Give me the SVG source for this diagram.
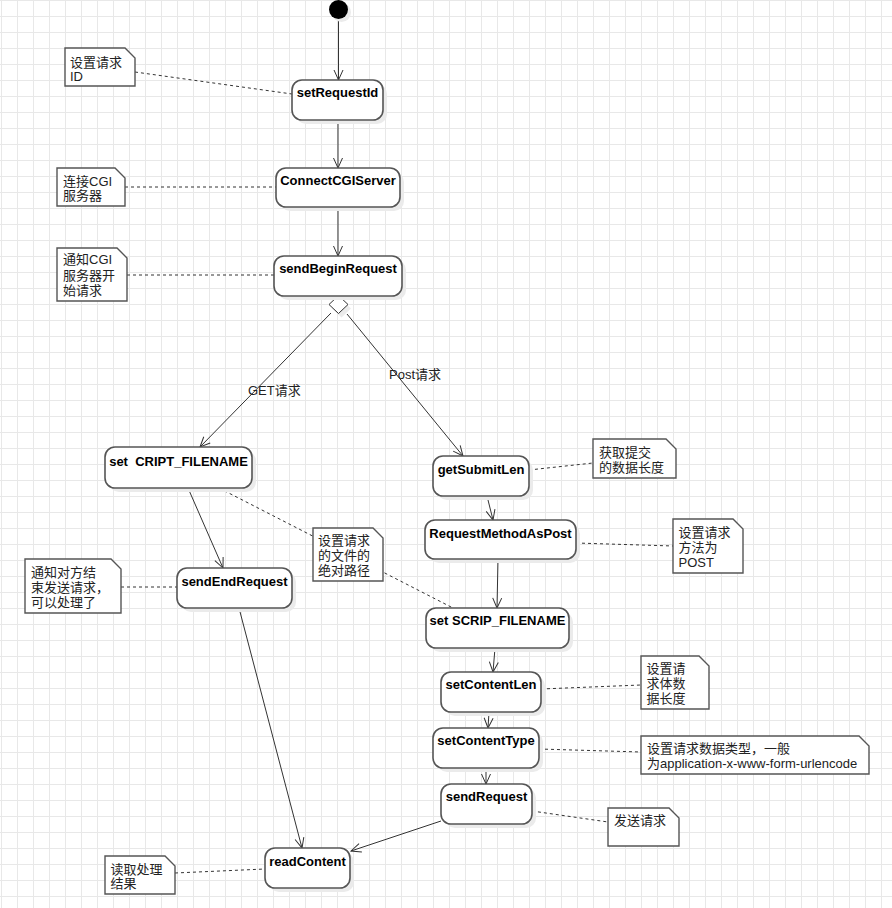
<svg xmlns="http://www.w3.org/2000/svg" width="892" height="908" viewBox="0 0 892 908">
<defs>
<pattern id="grid" x="1" y="0" width="16" height="16" patternUnits="userSpaceOnUse">
<path d="M0 0.5 H16 M0.5 0 V16" fill="none" stroke="#e8e8e8" stroke-width="1"/>
</pattern>
<marker id="arr" markerWidth="12" markerHeight="12" refX="10" refY="5" orient="auto" markerUnits="userSpaceOnUse" overflow="visible">
<path d="M0,0.5 L10,5 L0,9.5" fill="none" stroke="#333" stroke-width="1"/>
</marker>
</defs>
<style>
.node rect.b{fill:#fff;stroke:#555;stroke-width:1.6}
.node rect.s{fill:#ebebeb;stroke:none}
.node text{font-family:"Liberation Sans","Noto Sans CJK SC",sans-serif;font-size:13px;font-weight:bold;fill:#000;text-anchor:middle}
.note path.b{fill:#fff;stroke:#555;stroke-width:1.4}
.note text{font-family:"Liberation Sans","Noto Sans CJK SC",sans-serif;font-size:13px;fill:#222}
.flow{stroke:#333;stroke-width:1;fill:none;marker-end:url(#arr)}
.dash{stroke:#333;stroke-width:1;fill:none;stroke-dasharray:3,3}
.lbl{font-family:"Liberation Sans","Noto Sans CJK SC",sans-serif;font-size:13px;fill:#222}
</style>
<rect width="892" height="908" fill="#fff"/>
<rect width="892" height="908" fill="url(#grid)"/>

<g id="connectors">
<line class="flow" x1="338.5" y1="19" x2="338.5" y2="80"/>
<line class="flow" x1="338" y1="120" x2="338" y2="168"/>
<line class="flow" x1="338" y1="207" x2="338" y2="256"/>
<line class="flow" x1="331" y1="313" x2="200" y2="447"/>
<line class="flow" x1="347" y1="314" x2="463" y2="456"/>
<line class="flow" x1="188" y1="488" x2="223" y2="568"/>
<line class="flow" x1="487" y1="496" x2="493" y2="520"/>
<line class="flow" x1="498" y1="559" x2="497" y2="608"/>
<line class="flow" x1="495" y1="648" x2="493" y2="672"/>
<line class="flow" x1="489" y1="712" x2="488" y2="728"/>
<line class="flow" x1="486" y1="768" x2="486" y2="784"/>
<line class="flow" x1="441" y1="821" x2="351" y2="851"/>
<line class="flow" x1="239" y1="608" x2="302" y2="848"/>
<line class="dash" x1="135" y1="72" x2="292" y2="94"/>
<line class="dash" x1="125" y1="187" x2="276" y2="187"/>
<line class="dash" x1="127" y1="275" x2="274" y2="275"/>
<line class="dash" x1="219" y1="488" x2="453" y2="608"/>
<line class="dash" x1="529" y1="470" x2="593" y2="463"/>
<line class="dash" x1="576" y1="543" x2="673" y2="546"/>
<line class="dash" x1="541" y1="689" x2="641" y2="685"/>
<line class="dash" x1="539" y1="749" x2="641" y2="752"/>
<line class="dash" x1="532" y1="811" x2="608" y2="822"/>
<line class="dash" x1="175" y1="873" x2="265" y2="869"/>
<line class="dash" x1="121" y1="587" x2="177" y2="587"/>
<text class="lbl" x="248" y="394.5">GET请求</text>
<text class="lbl" x="389" y="378.5">Post请求</text>
</g>

<g id="start">
<circle cx="341.5" cy="12.5" r="9.5" fill="#ebebeb"/>
<circle cx="338.5" cy="9.5" r="9.5" fill="#000"/>
</g>

<g id="decision">
<polygon points="341.5,299.5 351,308.5 341.5,317.5 332,308.5" fill="#ebebeb"/>
<polygon points="338.5,295.5 348,304.5 338.5,313.5 329,304.5" fill="#fff" stroke="#333" stroke-width="1"/>
</g>

<g id="n-setRequestId" class="node">
<rect class="s" x="296" y="84" width="91" height="40" rx="10"/>
<rect class="b" x="292" y="80" width="91" height="40" rx="10"/>
<text x="337.5" y="97">setRequestId</text>
</g>
<g id="n-ConnectCGIServer" class="node">
<rect class="s" x="280" y="172" width="124" height="39" rx="10"/>
<rect class="b" x="276" y="168" width="124" height="39" rx="10"/>
<text x="338" y="185">ConnectCGIServer</text>
</g>
<g id="n-sendBeginRequest" class="node">
<rect class="s" x="278" y="260" width="128" height="40" rx="10"/>
<rect class="b" x="274" y="256" width="128" height="40" rx="10"/>
<text x="338" y="273">sendBeginRequest</text>
</g>
<g id="n-setCRIPT" class="node">
<rect class="s" x="109" y="451" width="147" height="41" rx="10"/>
<rect class="b" x="105" y="447" width="147" height="41" rx="10"/>
<text x="178.5" y="466" xml:space="preserve">set  CRIPT_FILENAME</text>
</g>
<g id="n-sendEndRequest" class="node">
<rect class="s" x="181" y="572" width="115" height="40" rx="10"/>
<rect class="b" x="177" y="568" width="115" height="40" rx="10"/>
<text x="234.5" y="586">sendEndRequest</text>
</g>
<g id="n-getSubmitLen" class="node">
<rect class="s" x="437" y="460" width="96" height="40" rx="10"/>
<rect class="b" x="433" y="456" width="96" height="40" rx="10"/>
<text x="481" y="474">getSubmitLen</text>
</g>
<g id="n-RequestMethodAsPost" class="node">
<rect class="s" x="429" y="524" width="151" height="39" rx="10"/>
<rect class="b" x="425" y="520" width="151" height="39" rx="10"/>
<text x="500.5" y="538">RequestMethodAsPost</text>
</g>
<g id="n-setSCRIP" class="node">
<rect class="s" x="430" y="612" width="143" height="40" rx="10"/>
<rect class="b" x="426" y="608" width="143" height="40" rx="10"/>
<text x="497.5" y="625">set SCRIP_FILENAME</text>
</g>
<g id="n-setContentLen" class="node">
<rect class="s" x="445" y="676" width="100" height="40" rx="10"/>
<rect class="b" x="441" y="672" width="100" height="40" rx="10"/>
<text x="491" y="689">setContentLen</text>
</g>
<g id="n-setContentType" class="node">
<rect class="s" x="437" y="732" width="106" height="40" rx="10"/>
<rect class="b" x="433" y="728" width="106" height="40" rx="10"/>
<text x="486" y="745">setContentType</text>
</g>
<g id="n-sendRequest" class="node">
<rect class="s" x="445" y="788" width="91" height="40" rx="10"/>
<rect class="b" x="441" y="784" width="91" height="40" rx="10"/>
<text x="486.5" y="801">sendRequest</text>
</g>
<g id="n-readContent" class="node">
<rect class="s" x="269" y="852" width="85" height="40" rx="10"/>
<rect class="b" x="265" y="848" width="85" height="40" rx="10"/>
<text x="307.5" y="866">readContent</text>
</g>

<g id="note-a" class="note">
<path class="b" d="M65,48 H125 L135,58 V86 H65 Z"/>
<text x="70" y="67">设置请求</text>
<text x="70" y="81">ID</text>
</g>
<g id="note-b" class="note">
<path class="b" d="M57,168 H115 L125,178 V206 H57 Z"/>
<text x="63" y="186">连接CGI</text>
<text x="63" y="200">服务器</text>
</g>
<g id="note-c" class="note">
<path class="b" d="M57,248 H117 L127,258 V301 H57 Z"/>
<text x="63" y="263.5">通知CGI</text>
<text x="63" y="279.5">服务器开</text>
<text x="63" y="294.5">始请求</text>
</g>
<g id="note-d" class="note">
<path class="b" d="M25,559 H111 L121,569 V613 H25 Z"/>
<text x="31" y="577">通知对方结</text>
<text x="31" y="592">束发送请求，</text>
<text x="31" y="607">可以处理了</text>
</g>
<g id="note-e" class="note">
<path class="b" d="M313,528 H373 L383,538 V581 H313 Z"/>
<text x="318" y="544.5">设置请求</text>
<text x="318" y="560">的文件的</text>
<text x="318" y="575">绝对路径</text>
</g>
<g id="note-f" class="note">
<path class="b" d="M593,439 H666 L676,449 V478 H593 Z"/>
<text x="599" y="457">获取提交</text>
<text x="599" y="472">的数据长度</text>
</g>
<g id="note-g" class="note">
<path class="b" d="M673,519 H733 L743,529 V573 H673 Z"/>
<text x="678.5" y="537">设置请求</text>
<text x="678.5" y="552">方法为</text>
<text x="678.5" y="567">POST</text>
</g>
<g id="note-h" class="note">
<path class="b" d="M641,656 H699 L709,666 V709 H641 Z"/>
<text x="646.5" y="673">设置请</text>
<text x="646.5" y="688">求体数</text>
<text x="646.5" y="703">据长度</text>
</g>
<g id="note-i" class="note">
<path class="b" d="M641,736 H859 L869,746 V774 H641 Z"/>
<text x="647" y="753">设置请求数据类型，一般</text>
<text x="647" y="768">为application-x-www-form-urlencode</text>
</g>
<g id="note-j" class="note">
<path class="b" d="M608,808 H669 L679,818 V846 H608 Z"/>
<text x="614" y="824.5">发送请求</text>
</g>
<g id="note-k" class="note">
<path class="b" d="M105,856 H165 L175,866 V894 H105 Z"/>
<text x="110.5" y="873.5">读取处理</text>
<text x="110.5" y="888">结果</text>
</g>
</svg>
